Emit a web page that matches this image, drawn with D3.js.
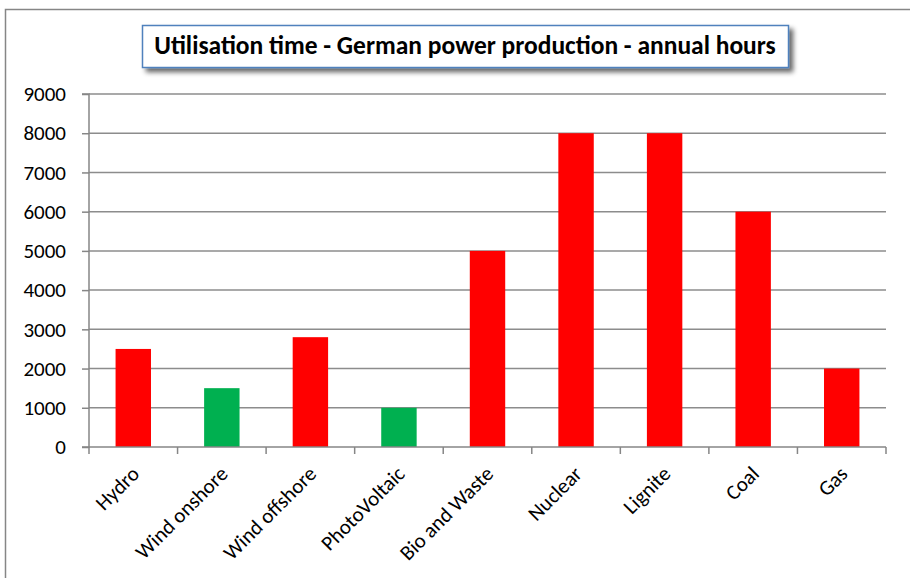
<!DOCTYPE html>
<html><head><meta charset="utf-8">
<script src="https://cdn.jsdelivr.net/npm/d3@7"></script>
<style>
body{margin:0;background:#fff;}
svg{display:block;}
</style></head>
<body>
<svg id="chart" width="910" height="578"></svg>
<script>
const categories = ["Hydro","Wind onshore","Wind offshore","PhotoVoltaic","Bio and Waste","Nuclear","Lignite","Coal","Gas"];
const hours = [2500,1500,2800,1000,5000,8000,8000,6000,2000];
const renewable = [false,true,false,true,false,false,false,false,false];
const yTicks = [0,1000,2000,3000,4000,5000,6000,7000,8000,9000];
const title = "Utilisation time - German power production - annual hours";

(function(){
const svg = d3.select("#chart");
const font = "Carlito, 'Open Sans', 'Liberation Sans', sans-serif";

svg.append("rect").attr("x",5.5).attr("y",9.5).attr("width",920).attr("height",600)
  .attr("fill","#fff").attr("stroke","#868686").attr("stroke-width",1.5);

const pL = 89, pR = 886, pT = 94, pB = 447;
const x = d3.scaleBand().domain(categories).range([pL,pR]).paddingInner(0.6).paddingOuter(0.3);
const y = d3.scaleLinear().domain([0,9000]).range([pB,pT]);

svg.append("g").selectAll("line").data(yTicks.filter(d=>d>0)).join("line")
  .attr("x1",pL).attr("x2",pR).attr("y1",d=>y(d)).attr("y2",d=>y(d))
  .attr("stroke","#8c8c8c").attr("stroke-width",1.5);

svg.append("g").selectAll("rect").data(categories).join("rect")
  .attr("x",d=>x(d)).attr("width",x.bandwidth())
  .attr("y",(d,i)=>y(hours[i])).attr("height",(d,i)=>y(0)-y(hours[i]))
  .attr("fill",(d,i)=>renewable[i] ? "#00B050" : "#FF0000");

const yAxis = d3.axisLeft(y).tickValues(yTicks).tickSize(7).tickPadding(16).tickFormat(d3.format("d"));
const gy = svg.append("g").attr("transform",`translate(${pL},0)`).call(yAxis);
gy.select(".domain").attr("stroke","#868686").attr("stroke-width",1.5).attr("d",`M-7,${pT}H0V${pB}H-7`);
gy.selectAll(".tick line").attr("stroke","#868686").attr("stroke-width",1.5);
gy.selectAll(".tick text").attr("fill","#000").style("font-family",font).style("font-size","21px");

const step = x.step();
const bounds = categories.map(d=>x(d) - (step - x.bandwidth())/2).concat([pR]);
svg.append("line").attr("x1",pL).attr("x2",pR).attr("y1",pB).attr("y2",pB)
  .attr("stroke","#868686").attr("stroke-width",1.5);
svg.append("g").selectAll("line").data(bounds).join("line")
  .attr("x1",d=>d).attr("x2",d=>d).attr("y1",pB).attr("y2",pB+7)
  .attr("stroke","#868686").attr("stroke-width",1.5);

svg.append("g").selectAll("text").data(categories).join("text")
  .attr("transform",d=>`translate(${x(d)+x.bandwidth()/2+2},${pB+23}) rotate(-45)`)
  .attr("text-anchor","end").attr("dy","0.35em")
  .style("font-family",font).style("font-size","21px").attr("fill","#000")
  .text(d=>d);

const defs = svg.append("defs");
const f = defs.append("filter").attr("id","sh").attr("x","-10%").attr("y","-30%").attr("width","120%").attr("height","180%");
f.append("feGaussianBlur").attr("in","SourceAlpha").attr("stdDeviation",2.5);
f.append("feOffset").attr("dx",4).attr("dy",4).attr("result","b");
f.append("feComponentTransfer").append("feFuncA").attr("type","linear").attr("slope",0.6);
const m = f.append("feMerge"); m.append("feMergeNode"); m.append("feMergeNode").attr("in","SourceGraphic");

svg.append("rect").attr("x",142.5).attr("y",25.5).attr("width",646).attr("height",42)
  .attr("fill","#fff").attr("stroke","#4F81BD").attr("stroke-width",1.5).attr("filter","url(#sh)");
svg.append("text").attr("x",465).attr("y",54).attr("text-anchor","middle")
  .style("font-family",font).style("font-size","25.5px").style("font-weight","bold").attr("fill","#000")
  .text(title);
})();
</script>
</body></html>
